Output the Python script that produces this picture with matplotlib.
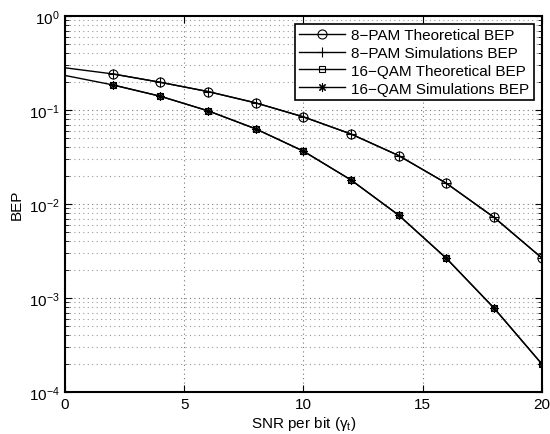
import matplotlib
matplotlib.use("Agg")
import matplotlib.pyplot as plt
from matplotlib.ticker import LogLocator, NullFormatter

plt.rcParams['font.family'] = ['Liberation Sans', 'DejaVu Sans']
plt.rcParams['mathtext.fontset'] = 'custom'
plt.rcParams['mathtext.rm'] = 'Liberation Sans'
plt.rcParams['mathtext.it'] = 'Liberation Sans:italic'

# SNR per bit, theoretical curves start at 0, markers at 2..20
snr_theory = [0, 2, 4, 6, 8, 10, 12, 14, 16, 18, 20]
snr_sim = [2, 4, 6, 8, 10, 12, 14, 16, 18, 20]

pam_theory = [0.281, 0.242, 0.197, 0.157, 0.119, 0.0845, 0.0555, 0.0327, 0.0166, 0.0072, 0.00267]
pam_sim = [0.242, 0.197, 0.157, 0.119, 0.0845, 0.0555, 0.0327, 0.0166, 0.0072, 0.00267]
qam_theory = [0.233, 0.185, 0.140, 0.098, 0.063, 0.0365, 0.018, 0.0076, 0.00264, 0.00078, 0.000199]
qam_sim = [0.185, 0.140, 0.098, 0.063, 0.0365, 0.018, 0.0076, 0.00264, 0.00078, 0.000199]

fig = plt.figure(figsize=(5.5, 4.35), dpi=100)
ax = fig.add_axes([0.118, 0.0966, 0.867, 0.8644])

ax.semilogy(snr_theory, pam_theory, color='k', lw=1, marker='o', ms=6.5, mfc='none',
            mew=0.8, markevery=slice(1, None), label='8\u2212PAM Theoretical BEP')
ax.semilogy(snr_sim, pam_sim, color='k', lw=1, marker='+', ms=7, mew=0.8,
            label='8\u2212PAM Simulations BEP')
ax.semilogy(snr_theory, qam_theory, color='k', lw=1, marker='s', ms=5, mfc='none',
            mew=0.8, markevery=slice(1, None), label='16\u2212QAM Theoretical BEP')
ax.semilogy(snr_sim, qam_sim, color='k', lw=1, marker=(8, 2, 0), ms=6, mew=0.8,
            label='16\u2212QAM Simulations BEP')

ax.set_xlim(0, 20)
ax.set_ylim(1e-4, 1)
ax.set_xticks([0, 5, 10, 15, 20])
ax.yaxis.set_major_locator(LogLocator(base=10, numticks=10))
ax.yaxis.set_minor_locator(LogLocator(base=10, subs=range(2, 10), numticks=20))
ax.yaxis.set_minor_formatter(NullFormatter())

ax.grid(True, which='major', axis='both', linestyle=(0, (1, 3)), color='#777777', lw=0.8)
ax.grid(True, which='minor', axis='y', linestyle=(0, (1, 3)), color='#999999', lw=0.8)

ax.tick_params(which='both', direction='in', top=True, right=True, labelsize=11)
ax.tick_params(which='major', length=5)
ax.tick_params(which='minor', length=3)
for sp in ax.spines.values():
    sp.set_linewidth(1.5)

ax.set_xlabel('SNR per bit (\u03b3$_\\mathrm{t}$)', fontsize=11, labelpad=2)
ax.set_ylabel('BEP', fontsize=11, labelpad=4)

leg = ax.legend(loc='upper right', fontsize=11, fancybox=False, framealpha=1,
                edgecolor='k', borderaxespad=0.5, handlelength=3.0,
                labelspacing=0.25, borderpad=0.3, handletextpad=0.4)
leg.get_frame().set_linewidth(1.2)

fig.savefig('out.png', dpi=100)
